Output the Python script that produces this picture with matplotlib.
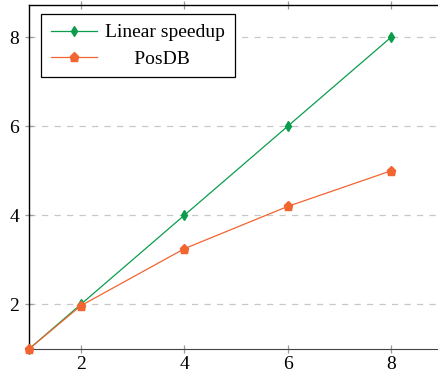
import matplotlib
matplotlib.use("Agg")
import matplotlib.pyplot as plt

threads = [1, 2, 4, 6, 8]
linear = [1, 2, 4, 6, 8]
posdb = [1, 1.97, 3.25, 4.2, 5.0]
xticks = [2, 4, 6, 8]
yticks = [2, 4, 6, 8]

plt.rcParams['font.family'] = ['Liberation Serif', 'DejaVu Serif']
plt.rcParams['font.size'] = 11.5

fig = plt.figure(figsize=(4.39, 3.75), dpi=100)
ax = fig.add_axes([29/439, 26/375, (443-29)/439, (349-5)/375])

green = '#0a9d4b'
orange = '#f26430'
ax.plot(threads, linear, color=green, lw=0.9, marker='d', ms=5, label='Linear speedup', zorder=3, clip_on=False)
ax.plot(threads, posdb, color=orange, lw=0.9, marker='p', ms=6.5, label='PosDB', zorder=4, clip_on=False)

ax.set_xlim(1, 9)
ax.set_ylim(1, 8.72)
ax.set_xticks(xticks)
ax.set_yticks(yticks)
ax.yaxis.grid(True, linestyle=(0, (5, 5)), color='#c8c8c8', lw=0.9)
ax.set_axisbelow(True)
ax.tick_params(direction='inout', length=6, width=0.9, color='#999999', top=True, right=True, labelsize=14)
ax.tick_params(axis='x', pad=2)
ax.tick_params(axis='y', pad=4)
for s in ['left', 'top']:
    ax.spines[s].set_color('black')
    ax.spines[s].set_linewidth(1.0)
ax.spines['bottom'].set_color('#444444')
ax.spines['right'].set_visible(False)

leg = ax.legend(loc='upper left', bbox_to_anchor=(12/414, (349-14)/344), borderaxespad=0, fancybox=False, edgecolor='black',
                framealpha=1, fontsize=14, handlelength=2.4, borderpad=0.5, labelspacing=0.45, handletextpad=0.4)
leg.get_frame().set_linewidth(0.9)
texts = leg.get_texts()
texts[1].set_text('      PosDB')

fig.savefig('out.png', dpi=100)
